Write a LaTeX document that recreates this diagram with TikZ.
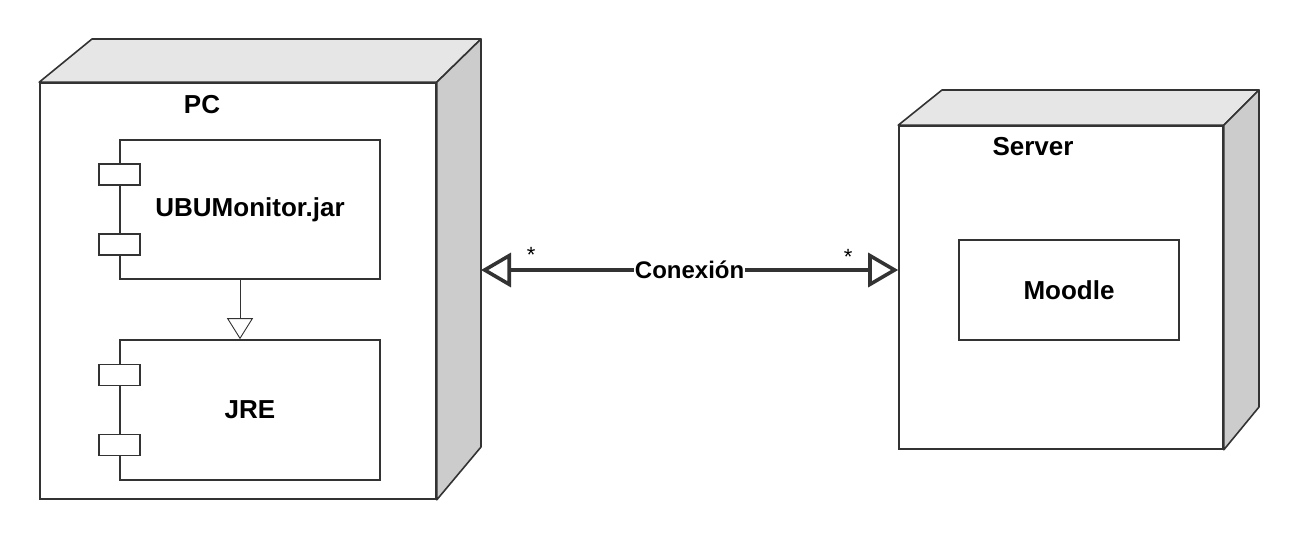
\documentclass[tikz,border=0pt]{standalone}
\usepackage{fontspec}
\setmainfont{Liberation Sans}
\usetikzlibrary{arrows.meta,positioning}
\definecolor{edge}{HTML}{333333}
\definecolor{topgray}{HTML}{E6E6E6}
\definecolor{sidegray}{HTML}{CCCCCC}
\begin{document}
\begin{tikzpicture}[x=1pt,y=-1pt,
  every node/.style={font=\bfseries\fontsize{26}{30}\selectfont,inner sep=0pt},
  box/.style={draw=edge,line width=1.6pt,fill=white},
  port/.style={draw=edge,line width=1.6pt,fill=white,minimum width=41pt,minimum height=21pt},
  face/.style={draw=edge,line width=1.6pt,line join=round},
  gen/.style={draw=edge,line width=0.9pt,-{Triangle[open,length=21pt,width=26pt]}},
  assoc/.style={draw=edge,line width=3.6pt,{Triangle[open,length=30pt,width=34pt]}-{Triangle[open,length=30pt,width=34pt]}},
  mult/.style={font=\fontsize{22}{26}\selectfont}]
  \useasboundingbox (0,0) rectangle (1299,540);
  % PC node
  \node[box,minimum width=396pt,minimum height=416pt] (pc) at (238,291) {};
  \coordinate (pcTL) at (92,39);
  \coordinate (pcTR) at (481,39);
  \coordinate (pcBR) at (481,447);
  \draw[face,fill=topgray] (pc.north west) -- (pcTL) -- (pcTR) -- (pc.north east) -- cycle;
  \draw[face,fill=sidegray] (pc.north east) -- (pcTR) -- (pcBR) -- (pc.south east) -- cycle;
  \node (pcName) at (202,105) {PC};
  % components
  \node[box,minimum width=260pt,minimum height=139pt] (ubu) at (250,209.5) {UBUMonitor.jar};
  \node[port] (ubuA) at ([yshift=35pt]ubu.west) {};
  \node[port] (ubuB) at ([yshift=-35pt]ubu.west) {};
  \node[box,minimum width=260pt,minimum height=140pt] (jre) at (250,410) {JRE};
  \node[port] (jreA) at ([yshift=35pt]jre.west) {};
  \node[port] (jreB) at ([yshift=-35pt]jre.west) {};
  \draw[gen] ([xshift=-10pt]ubu.south) -- ([xshift=-10pt]jre.north);
  % Server node
  \node[box,minimum width=324pt,minimum height=323pt] (srv) at (1061,287.5) {};
  \coordinate (srvTL) at (942,90);
  \coordinate (srvTR) at (1259,90);
  \coordinate (srvBR) at (1259,407);
  \draw[face,fill=topgray] (srv.north west) -- (srvTL) -- (srvTR) -- (srv.north east) -- cycle;
  \draw[face,fill=sidegray] (srv.north east) -- (srvTR) -- (srvBR) -- (srv.south east) -- cycle;
  \node (srvName) at (1033,147) {Server};
  \node[box,minimum width=220pt,minimum height=100pt] (moodle) at (1069,290) {Moodle};
  % connection
  \coordinate (pcEdge) at (481,270);
  \draw[assoc] (pcEdge) -- (pcEdge -| srv.west)
    node[midway,fill=white,inner xsep=1pt,inner ysep=2pt,font=\bfseries\fontsize{24}{28}\selectfont] (conn) {Conexión}
    node[mult,pos=0.12,above=6pt] (mA) {*}
    node[mult,pos=0.88,above=4pt] (mB) {*};
\end{tikzpicture}
\end{document}
